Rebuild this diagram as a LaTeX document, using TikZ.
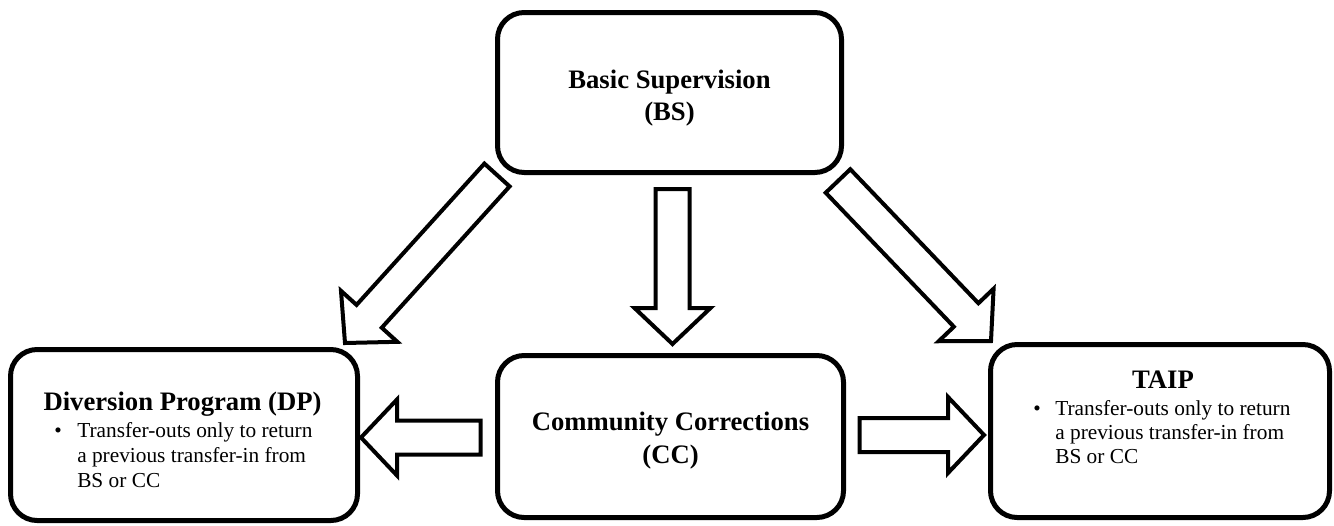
\documentclass[tikz,border=0pt]{standalone}
\usepackage{fontspec}
\setmainfont{Liberation Serif}
\usetikzlibrary{calc}
\tikzset{
  box/.style={draw, line width=3.75pt, rounded corners=20pt, inner sep=0pt},
  barrow/.style={draw, line width=3pt, fill=white, line join=miter},
  ttl/.style={font=\bfseries\fontsize{20}{24}\selectfont, anchor=base, inner sep=0pt},
  txt/.style={font=\fontsize{16}{19}\selectfont, anchor=base west, inner sep=0pt},
  bul/.style={font=\fontsize{16}{19}\selectfont, anchor=base, inner sep=0pt},
}
\newcommand\mkbox[5]{\node[box, minimum width={(#4-#2)*0.75pt}, minimum height={(#5-#3)*0.75pt}] (#1) at ({(#2+#4)/2},{(#3+#5)/2}) {};}
\newcommand\blockarr[2]{%
  \coordinate (#1-hb) at ($(#2)!27pt!(#1)$);
  \draw[barrow] ($(#1)!12.75pt!90:(#2)$) -- ($(#1-hb)!12.75pt!90:(#2)$) -- ($(#1-hb)!28.5pt!90:(#2)$) -- (#2) -- ($(#1-hb)!28.5pt!-90:(#2)$) -- ($(#1-hb)!12.75pt!-90:(#2)$) -- ($(#1)!12.75pt!-90:(#2)$) -- cycle;}
\begin{document}
\begin{tikzpicture}[x=0.75pt, y=-0.75pt]
\useasboundingbox (0,0) rectangle (1334,525);
% boxes
\mkbox{bs}{497.5}{12.5}{841.5}{172.5}
\mkbox{dp}{10.5}{349.5}{357.5}{520.5}
\mkbox{cc}{497.5}{355.5}{843.5}{517.5}
\mkbox{taip}{990.5}{344.5}{1329.5}{517.5}
% texts
\node[ttl] (bs-t1) at (669.5,88) {Basic Supervision};
\node[ttl] (bs-t2) at (669.5,120) {(BS)};
\node[ttl] (cc-t1) at (670.5,430) {Community Corrections};
\node[ttl] (cc-t2) at (670.5,463) {(CC)};
\node[ttl] (dp-t) at (182.5,410) {Diversion Program (DP)};
\node[bul] (dp-b) at (58,437) {\textbullet};
\node[txt] (dp-l1) at (77,437) {Transfer-outs only to return};
\node[txt] (dp-l2) at (77,462) {a previous transfer-in from};
\node[txt] (dp-l3) at (77,487) {BS or CC};
\node[ttl] (taip-t) at (1163,388) {TAIP};
\node[bul] (taip-b) at (1037,415) {\textbullet};
\node[txt] (taip-l1) at (1055,415) {Transfer-outs only to return};
\node[txt] (taip-l2) at (1055,439) {a previous transfer-in from};
\node[txt] (taip-l3) at (1055,463) {BS or CC};
% arrow end points
\coordinate (a1) at (672.5,189);  \coordinate (a1t) at (672.5,344);
\coordinate (a2) at (497,175);    \coordinate (a2t) at (345,343);
\coordinate (a3) at (838,181);    \coordinate (a3t) at (991,341);
\coordinate (a4) at (480.5,437.5);\coordinate (a4t) at (361,437.5);
\coordinate (a5) at (859.5,435);  \coordinate (a5t) at (984,435);
\blockarr{a1}{a1t}
\blockarr{a2}{a2t}
\blockarr{a3}{a3t}
\blockarr{a4}{a4t}
\blockarr{a5}{a5t}
\end{tikzpicture}
\end{document}
